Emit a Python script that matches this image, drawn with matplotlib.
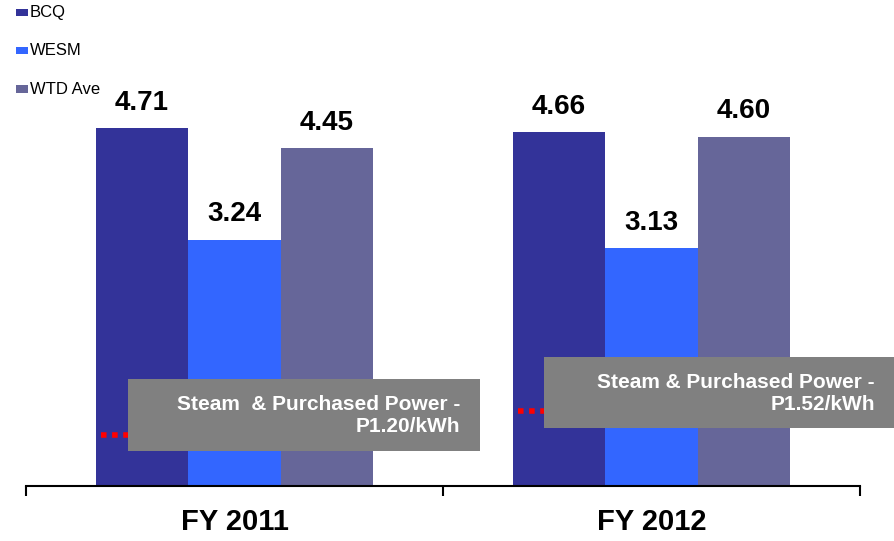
import matplotlib.pyplot as plt
from matplotlib.patches import Rectangle

plt.rcParams['font.family'] = ['Liberation Sans', 'DejaVu Sans']

years = ["FY 2011", "FY 2012"]
series = ["BCQ", "WESM", "WTD Ave"]
values = {
    "BCQ": [4.71, 4.66],
    "WESM": [3.24, 3.13],
    "WTD Ave": [4.45, 4.60],
}
colors = ["#333399", "#3366FF", "#666699"]
steam_cost = [1.20, 1.52]
steam_notes = ["Steam  & Purchased Power -\nP1.20/kWh",
               "Steam & Purchased Power -\nP1.52/kWh"]

fig = plt.figure(figsize=(8.95, 5.41), dpi=100)
ax = fig.add_axes([0.029, 0.1017, 0.932, 0.772])

width = 0.222
x = list(range(len(years)))
for i, (name, col) in enumerate(zip(series, colors)):
    xs = [p + (i - 1) * width for p in x]
    bars = ax.bar(xs, values[name], width=width, color=col, zorder=2)
    for b, v in zip(bars, values[name]):
        ax.annotate(f"{v:.2f}", (b.get_x() + b.get_width() / 2, v),
                    xytext=(0, 9), textcoords="offset points",
                    ha="center", va="bottom", fontsize=20,
                    fontweight="bold", color="black")

ax.set_xlim(-0.5, 1.5)
ax.set_ylim(0, 5.5)

# steam cost markers on a hidden secondary scale
ax2 = ax.twinx()
ax2.set_ylim(0.53, 0.53 + 5.5)
ax2.axis("off")
for p, c in zip(x, steam_cost):
    ax2.plot([p - 0.32, p - 0.1], [c, c], color="red", linestyle=(0, (1, 1)),
             linewidth=4, dash_capstyle="butt", zorder=3)

# gray note boxes
box_specs = [(-0.255, 0.461, 0.844, 0.947, 0.541, 0.928),
             (0.742, 0.763, 0.842, 0.934, 1.536, 1.217)]
for (bx, by, bw, bh, tx, ty), note in zip(box_specs, steam_notes):
    ax2.add_patch(Rectangle((bx, by + 0.53), bw, bh, facecolor="#808080",
                            edgecolor="none", zorder=4, clip_on=False))
    ax2.text(tx, ty + 0.53, note, ha="right", va="center", color="white",
             fontsize=15, fontweight="bold", linespacing=1.25, zorder=5)

for s in ["top", "right", "left"]:
    ax.spines[s].set_visible(False)
ax.spines["bottom"].set_linewidth(1.5)
ax.set_yticks([])
ax.set_xticks([-0.5, 0.5, 1.5])
ax.set_xticklabels([])
ax.tick_params(axis="x", which="major", length=7, width=1.5, direction="out")
ax.set_xticks(x, minor=True)
ax.set_xticklabels(years, minor=True, fontsize=21, fontweight="bold")
ax.tick_params(axis="x", which="minor", length=0, pad=16)

# legend
rows = [0.976, 0.907, 0.835]
for name, col, yy in zip(series, colors, rows):
    fig.patches.append(Rectangle((0.018, yy - 0.006), 0.013, 0.013,
                                 facecolor=col, edgecolor="none",
                                 transform=fig.transFigure, figure=fig))
    fig.text(0.033, yy, name, fontsize=12, va="center", ha="left")

fig.savefig("out.png", dpi=100)
